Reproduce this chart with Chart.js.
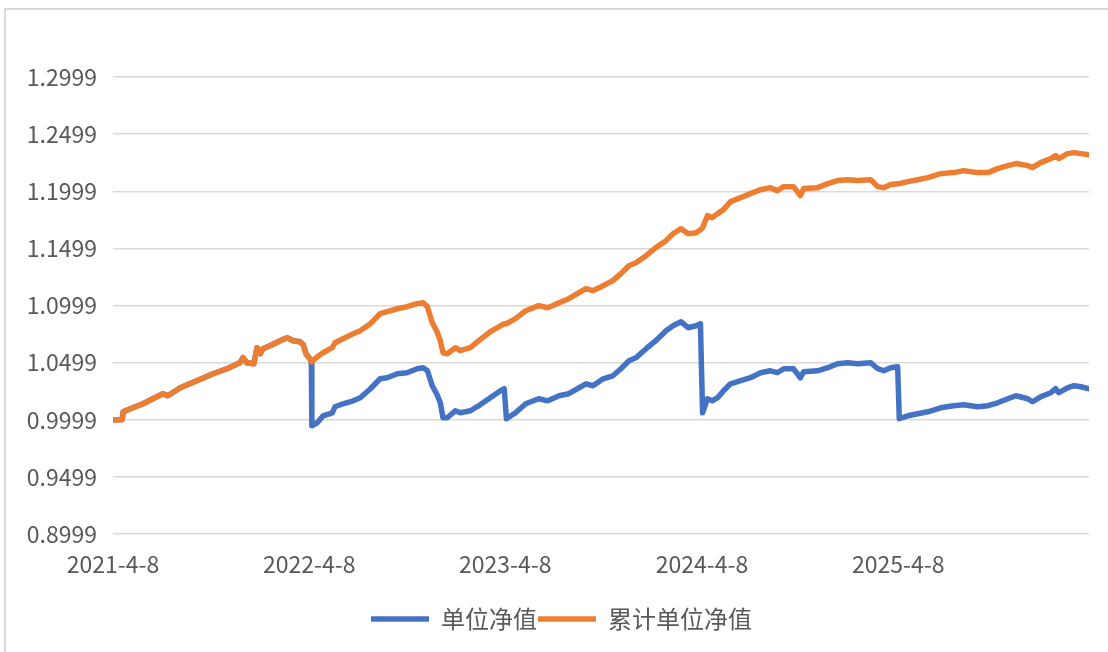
<!DOCTYPE html>
<html>
<head>
<meta charset="utf-8">
<script src="https://cdn.jsdelivr.net/npm/chart.js@4.4.1/dist/chart.umd.min.js"></script>
<style>
  body { margin: 0; background: #fff; }
  #wrap { position: relative; width: 1108px; height: 652px; }
  #frame { position: absolute; left: 4px; top: 8px; right: 0; bottom: 0;
           border-top: 2px solid #d9d9d9; border-left: 2px solid #d9d9d9; pointer-events: none; }
  canvas { position: absolute; left: 0; top: 0; }
</style>
</head>
<body>
<div id="wrap">
  <canvas id="chart" width="1108" height="652"></canvas>
  <div id="frame"></div>
</div>
<script>
// 日期
let dates = [
  "2021-04-08", "2021-04-25", "2021-04-27", "2021-05-15", "2021-06-03", "2021-06-21",
  "2021-07-10", "2021-07-19", "2021-08-11", "2021-09-11", "2021-10-11", "2021-11-06",
  "2021-11-30", "2021-12-06", "2021-12-13", "2021-12-26", "2022-01-01", "2022-01-07",
  "2022-01-12", "2022-01-25", "2022-02-13", "2022-02-26", "2022-03-09", "2022-03-22",
  "2022-03-28", "2022-04-02", "2022-04-12",
  "2022-04-13", "2022-04-23", "2022-05-04", "2022-05-21", "2022-05-26", "2022-06-10",
  "2022-06-29", "2022-07-12", "2022-07-31", "2022-08-18", "2022-08-31", "2022-09-19",
  "2022-10-07", "2022-10-26", "2022-11-06", "2022-11-14", "2022-11-23", "2022-12-02",
  "2022-12-08", "2022-12-13", "2022-12-21", "2023-01-05", "2023-01-14", "2023-02-02",
  "2023-02-20", "2023-03-11", "2023-03-30", "2023-04-06",
  "2023-04-10", "2023-04-27", "2023-05-16", "2023-06-09", "2023-06-26", "2023-07-17",
  "2023-08-04", "2023-08-23", "2023-09-05", "2023-09-18", "2023-10-07", "2023-10-25",
  "2023-11-09", "2023-11-24", "2023-12-07", "2023-12-26", "2024-01-13", "2024-02-01",
  "2024-02-14", "2024-02-29", "2024-03-13", "2024-03-28", "2024-04-05",
  "2024-04-09", "2024-04-18", "2024-04-27", "2024-05-07", "2024-05-18", "2024-05-31",
  "2024-06-19", "2024-07-07", "2024-07-26", "2024-08-13", "2024-08-26", "2024-09-07",
  "2024-09-25", "2024-10-08", "2024-10-14", "2024-11-09", "2024-11-28", "2024-12-16",
  "2025-01-04", "2025-01-22", "2025-02-16", "2025-03-01", "2025-03-12", "2025-03-25",
  "2025-04-07",
  "2025-04-10", "2025-04-26", "2025-05-14", "2025-06-02", "2025-06-26", "2025-07-20",
  "2025-08-08", "2025-09-03", "2025-09-22", "2025-10-10", "2025-10-29", "2025-11-13",
  "2025-12-05", "2025-12-14", "2025-12-29", "2026-01-17", "2026-01-26", "2026-02-01",
  "2026-02-17", "2026-03-01", "2026-03-14", "2026-03-29"
];

// 单位净值
let unitNav = [
  1.0000, 1.0000, 1.0069, 1.0104, 1.0139, 1.0183,
  1.0227, 1.0209, 1.0279, 1.0341, 1.0402, 1.0446,
  1.0498, 1.0542, 1.0498, 1.0490, 1.0630, 1.0577,
  1.0621, 1.0647, 1.0691, 1.0717, 1.0691, 1.0682,
  1.0656, 1.0577, 1.0516,
  0.9946, 0.9973, 1.0034, 1.0060, 1.0113, 1.0139,
  1.0165, 1.0192, 1.0271, 1.0358, 1.0367, 1.0402,
  1.0411, 1.0446, 1.0455, 1.0428, 1.0297, 1.0218,
  1.0148, 1.0017, 1.0017, 1.0078, 1.0060, 1.0078,
  1.0130, 1.0192, 1.0253, 1.0271,
  1.0008, 1.0060, 1.0139, 1.0183, 1.0165, 1.0209,
  1.0227, 1.0279, 1.0314, 1.0297, 1.0358, 1.0384,
  1.0446, 1.0516, 1.0542, 1.0621, 1.0691, 1.0779,
  1.0822, 1.0857, 1.0805, 1.0822, 1.0840,
  1.0060, 1.0183, 1.0165, 1.0192, 1.0253, 1.0314,
  1.0341, 1.0367, 1.0411, 1.0428, 1.0411, 1.0446,
  1.0446, 1.0367, 1.0420, 1.0428, 1.0455, 1.0490,
  1.0498, 1.0490, 1.0498, 1.0446, 1.0428, 1.0455,
  1.0463,
  1.0008, 1.0034, 1.0052, 1.0069, 1.0104, 1.0122,
  1.0130, 1.0113, 1.0122, 1.0148, 1.0183, 1.0209,
  1.0183, 1.0157, 1.0200, 1.0236, 1.0271, 1.0236,
  1.0279, 1.0297, 1.0288, 1.0271
];

// 累计单位净值
let cumNav = [
  1.0000, 1.0000, 1.0069, 1.0104, 1.0139, 1.0183,
  1.0227, 1.0209, 1.0279, 1.0341, 1.0402, 1.0446,
  1.0498, 1.0542, 1.0498, 1.0490, 1.0630, 1.0577,
  1.0621, 1.0647, 1.0691, 1.0717, 1.0691, 1.0682,
  1.0656, 1.0577, 1.0516,
  1.0507, 1.0551, 1.0586, 1.0630, 1.0674, 1.0709,
  1.0752, 1.0779, 1.0840, 1.0928, 1.0945, 1.0971,
  1.0989, 1.1015, 1.1024, 1.0989, 1.0849, 1.0770,
  1.0691, 1.0586, 1.0577, 1.0630, 1.0604, 1.0630,
  1.0700, 1.0770, 1.0822, 1.0840,
  1.0840, 1.0884, 1.0954, 1.0998, 1.0980, 1.1024,
  1.1059, 1.1112, 1.1147, 1.1129, 1.1173, 1.1217,
  1.1278, 1.1348, 1.1374, 1.1436, 1.1506, 1.1567,
  1.1628, 1.1672, 1.1628, 1.1637, 1.1663,
  1.1681, 1.1786, 1.1769, 1.1804, 1.1839, 1.1909,
  1.1944, 1.1979, 1.2014, 1.2031, 1.2005, 1.2040,
  1.2040, 1.1961, 1.2023, 1.2031, 1.2066, 1.2093,
  1.2101, 1.2093, 1.2101, 1.2040, 1.2031, 1.2058,
  1.2066,
  1.2066, 1.2084, 1.2101, 1.2119, 1.2154, 1.2163,
  1.2180, 1.2163, 1.2163, 1.2198, 1.2224, 1.2242,
  1.2224, 1.2207, 1.2250, 1.2285, 1.2312, 1.2285,
  1.2329, 1.2338, 1.2329, 1.2320
];

let tickDates = ["2021-04-08", "2022-04-08", "2023-04-08", "2024-04-08", "2025-04-08"];
let tickLabels = ["2021-4-8", "2022-4-8", "2023-4-8", "2024-4-8", "2025-4-8"];
let yTicks = [0.8999, 0.9499, 0.9999, 1.0499, 1.0999, 1.1499, 1.1999, 1.2499, 1.2999];
let yMin = 0.8999;
let yMax = 1.3499;

let xs = dates.map(d => Date.parse(d));
let unitPoints = xs.map((x, i) => ({ x: x, y: unitNav[i] }));
let cumPoints = xs.map((x, i) => ({ x: x, y: cumNav[i] }));

let fontFamily = "'Noto Sans CJK SC', 'Noto Sans', sans-serif";
let textColor = "#595959";

// legend sits a bit right of the canvas centre in the original
let legendShift = {
    id: "legendShift",
    afterLayout(chart) {
        chart.legend.left += 17;
        chart.legend.right += 17;
    }
};

let ctx = document.getElementById("chart").getContext("2d");
let chart = new Chart(ctx, {
    type: "line",
    data: {
        datasets: [
            {
                label: "单位净值",
                data: unitPoints,
                borderColor: "#4472C4",
                backgroundColor: "#4472C4",
                borderWidth: 5.5,
                borderCapStyle: "round",
                borderJoinStyle: "round",
                pointRadius: 0,
                tension: 0,
                order: 2
            },
            {
                label: "累计单位净值",
                data: cumPoints,
                borderColor: "#ED7D31",
                backgroundColor: "#ED7D31",
                borderWidth: 5.5,
                borderCapStyle: "round",
                borderJoinStyle: "round",
                pointRadius: 0,
                tension: 0,
                order: 1
            }
        ]
    },
    plugins: [legendShift],
    options: {
        responsive: false,
        animation: false,
        layout: { padding: { top: 20, right: 19, left: 0, bottom: 11 } },
        plugins: {
            tooltip: { enabled: false },
            legend: {
                position: "bottom",
                labels: {
                    usePointStyle: true,
                    pointStyle: "line",
                    pointStyleWidth: 58,
                    boxHeight: 5,
                    padding: 1,
                    color: textColor,
                    font: { family: fontFamily, size: 24 },
                    sort: (a, b) => a.datasetIndex - b.datasetIndex
                }
            }
        },
        scales: {
            x: {
                type: "linear",
                min: xs[0],
                max: xs[xs.length - 1],
                grid: { display: false, drawTicks: false },
                border: { display: false },
                afterBuildTicks: s => { s.ticks = tickDates.map(d => ({ value: Date.parse(d) })); },
                afterFit: s => { s.height = 72; s.paddingLeft = 0; s.paddingRight = 0; },
                ticks: {
                    padding: 16,
                    maxRotation: 0,
                    autoSkip: false,
                    color: textColor,
                    font: { family: fontFamily, size: 23 },
                    callback: (v, i) => tickLabels[i]
                }
            },
            y: {
                min: yMin,
                max: yMax,
                grid: { color: "#d9d9d9", lineWidth: 1.5, drawTicks: false },
                border: { display: false },
                afterBuildTicks: s => { s.ticks = yTicks.map(v => ({ value: v })); },
                afterFit: s => { s.width = 113; s.paddingTop = 0; s.paddingBottom = 0; },
                ticks: {
                    padding: 16,
                    color: textColor,
                    font: { family: fontFamily, size: 23 },
                    callback: v => v.toFixed(4)
                }
            }
        }
    }
});
</script>
</body>
</html>
